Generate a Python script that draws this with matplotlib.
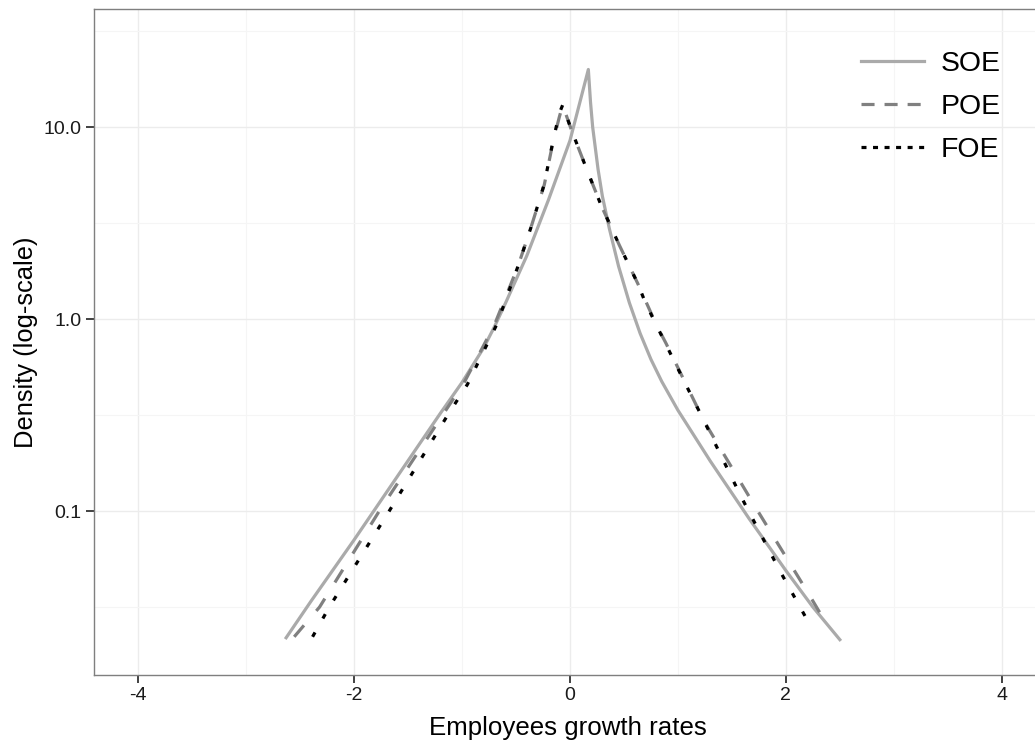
import numpy as np
import matplotlib
matplotlib.use('Agg')
import matplotlib.pyplot as plt
from matplotlib.lines import Line2D
from matplotlib.ticker import FixedLocator, FuncFormatter

plt.rcParams['font.family'] = ['Liberation Sans', 'DejaVu Sans']
plt.rcParams['lines.scale_dashes'] = False

# Density curves (x = growth rate, y = log10 density)
soe_x = [-2.63, -2.4, -2.0, -1.6, -1.2, -1.0, -0.8, -0.7, -0.6, -0.4, -0.2, 0.0, 0.17,
         0.19, 0.21, 0.26, 0.30, 0.365, 0.45, 0.55, 0.65, 0.75, 0.85, 1.0, 1.3, 1.66, 2.0, 2.25, 2.5]
soe_log = [-1.66, -1.47, -1.15, -0.82, -0.49, -0.33, -0.15, -0.04, 0.08, 0.33, 0.62, 0.93, 1.30,
           1.13, 1.0, 0.78, 0.64, 0.47, 0.275, 0.085, -0.075, -0.21, -0.325, -0.475, -0.74,
           -1.04, -1.31, -1.5, -1.67]

poe_x = [-2.555, -2.32, -1.767, -1.18, -0.98, -0.7, -0.485, -0.36, -0.238, -0.16, -0.1, -0.068,
         0.01, 0.148, 0.287, 0.457, 0.627, 0.80, 0.89, 1.245, 1.74, 2.22, 2.40]
poe_log = [-1.655, -1.5, -1.0, -0.5, -0.33, -0.03, 0.27, 0.48, 0.70, 0.915, 1.05, 1.115,
           0.99, 0.79, 0.594, 0.385, 0.186, -0.03, -0.127, -0.535, -1.0, -1.44, -1.61]

foe_x = [-2.385, -2.23, -1.675, -1.133, -0.95, -0.68, -0.485, -0.36, -0.24, -0.16, -0.1, -0.068,
         0.01, 0.148, 0.287, 0.457, 0.627, 0.70, 1.06, 1.23, 1.585, 1.94, 2.23]
foe_log = [-1.655, -1.5, -1.0, -0.5, -0.34, -0.03, 0.27, 0.48, 0.70, 0.92, 1.07, 1.115,
           0.99, 0.79, 0.594, 0.385, 0.186, 0.083, -0.327, -0.517, -0.925, -1.307, -1.60]

labels = ['SOE', 'POE', 'FOE']
colors = ['#aaaaaa', '#808080', '#000000']

W, H = 1035, 745
fig = plt.figure(figsize=(W / 100, H / 100), dpi=100)
# panel runs off the right edge in the original
ax = fig.add_axes([94 / W, 70 / H, 952 / W, 666 / H])

lw = 2.3
dash_plot = (0, (10.8, 13.7))
dot_plot = (0, (3.6, 11.5))

ax.plot(soe_x, 10 ** np.array(soe_log), color=colors[0], lw=lw, solid_joinstyle='round')
ax.plot(poe_x, 10 ** np.array(poe_log), color=colors[1], lw=lw, linestyle=dash_plot)
ax.plot(foe_x, 10 ** np.array(foe_log), color=colors[2], lw=lw, linestyle=dot_plot)

ax.set_yscale('log')
ax.set_xlim(-4.41, 4.41)
ax.set_ylim(10 ** -1.854, 10 ** 1.615)

ax.xaxis.set_major_locator(FixedLocator([-4, -2, 0, 2, 4]))
ax.xaxis.set_minor_locator(FixedLocator([-3, -1, 1, 3]))
ax.yaxis.set_major_locator(FixedLocator([0.1, 1, 10]))
ax.yaxis.set_minor_locator(FixedLocator([10 ** -1.5, 10 ** -0.5, 10 ** 0.5, 10 ** 1.5]))
ax.xaxis.set_major_formatter(FuncFormatter(lambda v, p: f'{v:g}'))
ax.yaxis.set_major_formatter(FuncFormatter(lambda v, p: f'{v:.1f}'))

ax.grid(True, which='major', color='#ececec', lw=1.0)
ax.grid(True, which='minor', color='#f5f5f5', lw=0.8)
ax.set_axisbelow(True)
ax.tick_params(which='major', length=5.5, width=1.3, color='#333333',
               labelsize=14, labelcolor='#1a1a1a', pad=3.5)
ax.tick_params(which='minor', length=0)
for s in ax.spines.values():
    s.set_color('#7f7f7f')
    s.set_linewidth(1.0)

ax.set_xlabel('Employees growth rates', fontsize=18.6)
ax.set_ylabel('Density (log-scale)', fontsize=18.4, labelpad=4)
ax.xaxis.set_label_coords(474 / 952, -0.061)

handles = [
    Line2D([], [], color=colors[0], lw=lw),
    Line2D([], [], color=colors[1], lw=lw, linestyle=(0, (9.4, 7.2))),
    Line2D([], [], color=colors[2], lw=lw, linestyle=(0, (3.6, 4.7))),
]
fig.legend(handles, labels, loc='upper left', bbox_to_anchor=(861 / W, 1 - 51 / H),
           frameon=False, fontsize=20.4, handlelength=2.22, handletextpad=0.6,
           labelspacing=0.6, borderpad=0, borderaxespad=0)

fig.savefig('out.png', dpi=100)
